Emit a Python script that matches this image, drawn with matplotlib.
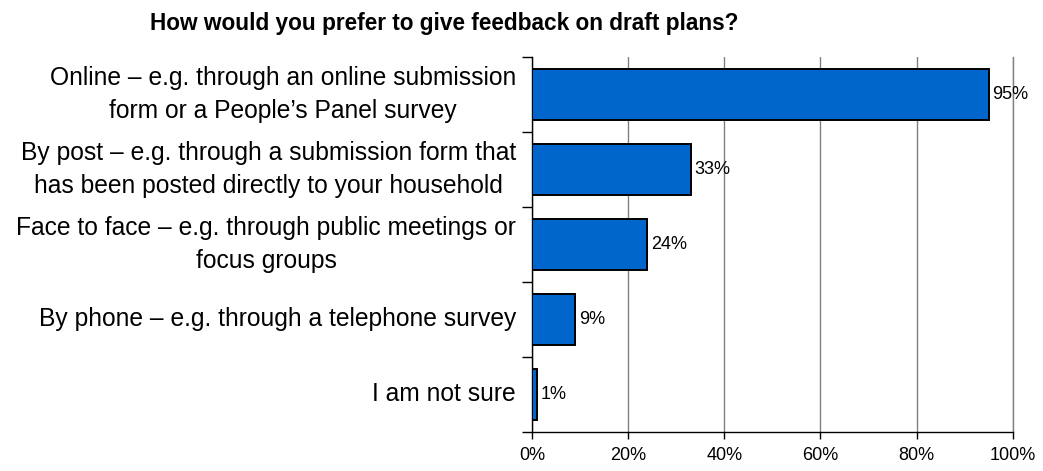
import matplotlib.pyplot as plt
import numpy as np

plt.rcParams['font.family'] = ['Liberation Sans', 'DejaVu Sans']

# survey answers, top to bottom
categories = [
    "Online \u2013 e.g. through an online submission\nform or a People\u2019s Panel survey",
    "By post \u2013 e.g. through a submission form that\nhas been posted directly to your household",
    "Face to face \u2013 e.g. through public meetings or\nfocus groups",
    "By phone \u2013 e.g. through a telephone survey",
    "I am not sure",
]
percent = [95, 33, 24, 9, 1]
x_ticks = [0, 20, 40, 60, 80, 100]
x_tick_labels = ["0%", "20%", "40%", "60%", "80%", "100%"]

fig = plt.figure(figsize=(10.43, 4.71), dpi=100)
ax = fig.add_axes([0.510, 0.083, 0.461, 0.796])

y = np.arange(len(categories))
ax.barh(y, percent, height=0.67, color="#0066CC", edgecolor="black",
        linewidth=1.4, zorder=3)

for yi, v in zip(y, percent):
    ax.text(v + 0.8, yi, f"{v}%", va="center", ha="left", fontsize=13,
            zorder=4)

ax.set_xlim(0, 100)
ax.set_ylim(len(categories) - 0.5, -0.5)

ax.set_xticks(x_ticks)
ax.set_xticklabels(x_tick_labels, fontsize=13)
ax.xaxis.grid(True, color="#808080", linewidth=1)
ax.set_axisbelow(True)

# category labels drawn by hand so they can be centre-aligned
ax.set_yticks(np.arange(len(categories) + 1) - 0.5)
ax.set_yticklabels([])
for yi, lab in zip(y, categories):
    ax.annotate(lab, xy=(0, yi), xycoords=("axes fraction", "data"),
                xytext=(-11.5, 0), textcoords="offset points",
                ha="right", va="center", multialignment="center",
                fontsize=17.7, linespacing=1.47)

ax.tick_params(axis="y", length=7, width=1, direction="out")
ax.tick_params(axis="x", length=5, width=1, direction="out", pad=6)
ax.spines["top"].set_visible(False)
# the 100% gridline sits on the right edge
ax.spines["right"].set_color("#808080")
ax.spines["right"].set_linewidth(1)
ax.spines["left"].set_linewidth(1)
ax.spines["bottom"].set_linewidth(1)

fig.text(0.426, 0.950, "How would you prefer to give feedback on draft plans?",
         ha="center", va="center", fontsize=16.3, fontweight="bold")

fig.savefig("out.png", dpi=100)
